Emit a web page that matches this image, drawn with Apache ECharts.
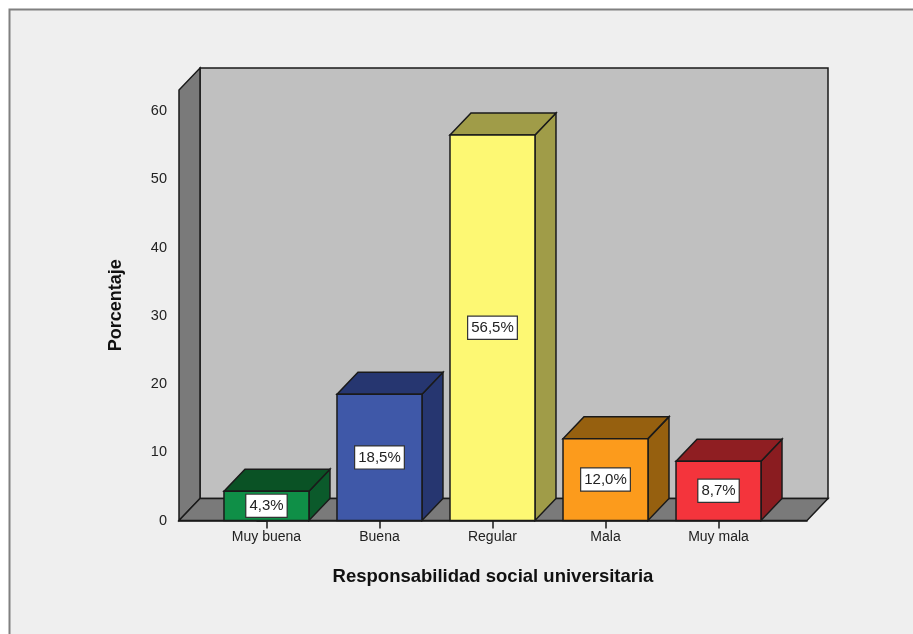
<!DOCTYPE html>
<html><head><meta charset="utf-8">
<style>html,body{margin:0;padding:0;background:#fff}#c{width:913px;height:634px}</style>
<script src="https://cdn.jsdelivr.net/npm/echarts@6/dist/echarts.min.js"></script>
</head><body><div id="c"></div>
<script>
const categories = ['Muy buena','Buena','Regular','Mala','Muy mala'];
const percentages = [4.3,18.5,56.5,12.0,8.7];
const yTicks = [0,10,20,30,40,50,60];
const frontColors = ['#0f8f47','#3f58a8','#fdf873','#fc9b1c','#f4343c'];
const topColors = ['#0a5225','#263670','#a09c48','#96600f','#8f1e22'];
const sideColors = ['#0b5a2b','#263670','#a09c48','#96600f','#8a1c20'];
const xMin = -0.774, xMax = 4.783, yMax = 63.1;
const depthX = 21, depthY = -22, barRatio = 0.752;
const ink = '#1a1a1a';
const shift = p => [p[0]+depthX, p[1]+depthY];
const face = (points, fill) => ({type:'polygon', shape:{points}, style:{fill, stroke:ink, lineWidth:1.5, lineJoin:'miter'}});

const chart = echarts.init(document.getElementById('c'), null, {renderer:'canvas'});
chart.setOption({
  animation:false,
  backgroundColor:'#ffffff',
  graphic:[{type:'rect', z:-10, shape:{x:9.5,y:9.5,width:1000,height:1000},
            style:{fill:'#efefef', stroke:'#808080', lineWidth:2}}],
  grid:{left:179, top:90, width:628, height:430.5, containLabel:false},
  xAxis:{type:'value', min:xMin, max:xMax, splitLine:{show:false},
    name:'Responsabilidad social universitaria', nameLocation:'middle', nameGap:47,
    nameTextStyle:{fontFamily:'Liberation Sans', fontWeight:'bold', fontSize:18.5, color:'#111'},
    axisLine:{show:true, lineStyle:{color:ink, width:1.5}},
    axisTick:{show:true, length:8, customValues:[0,1,2,3,4], lineStyle:{color:ink, width:1.5}},
    axisLabel:{customValues:[0,1,2,3,4], formatter:v=>categories[v]||'', margin:10,
      fontFamily:'Liberation Sans', fontSize:14, color:'#222'}},
  yAxis:{type:'value', min:0, max:yMax, splitLine:{show:false},
    name:'Porcentaje', nameLocation:'middle', nameGap:54, nameRotate:90,
    nameTextStyle:{fontFamily:'Liberation Sans', fontWeight:'bold', fontSize:18, color:'#111'},
    axisLine:{show:true, lineStyle:{color:ink, width:1.5}},
    axisTick:{show:true, length:10, customValues:yTicks, lineStyle:{color:ink, width:1.5}},
    axisLabel:{customValues:yTicks, margin:12,
      fontFamily:'Liberation Sans', fontSize:14.5, color:'#222'}},
  series:[
    {type:'custom', z:1, clip:false, silent:true, data:[[xMin,xMax,0,yMax]],
     encode:{x:[0,1], y:[2,3]},
     renderItem:(params, api)=>{
       const bl=api.coord([api.value(0),api.value(2)]), br=api.coord([api.value(1),api.value(2)]);
       const tl=api.coord([api.value(0),api.value(3)]);
       return {type:'group', children:[
         face([shift(bl),shift(br),[shift(br)[0],shift(tl)[1]],shift(tl)],'#c0c0c0'),
         face([bl,shift(bl),shift(tl),tl],'#7a7a7a'),
         face([bl,br,shift(br),shift(bl)],'#7a7a7a')
       ]};
     }},
    {type:'custom', z:2, clip:false, silent:true,
     data:percentages.map((v,i)=>[i,v]),
     encode:{x:0,y:1},
     renderItem:(params, api)=>{
       const i=api.value(0), v=api.value(1);
       const c=api.coord([i,v]), b=api.coord([i,0]);
       const half=api.size([1,0])[0]*barRatio/2;
       const tl=[c[0]-half,c[1]], tr=[c[0]+half,c[1]], bl=[c[0]-half,b[1]], br=[c[0]+half,b[1]];
       return {type:'group', children:[
         face([tr,br,shift(br),shift(tr)],sideColors[params.dataIndex]),
         face([tl,tr,shift(tr),shift(tl)],topColors[params.dataIndex]),
         face([tl,tr,br,bl],frontColors[params.dataIndex]),
         {type:'text', z2:10, style:{
           x:c[0], y:(c[1]+b[1])/2, align:'center', verticalAlign:'middle',
           text:v.toFixed(1).replace('.',',')+'%',
           fontFamily:'Liberation Sans', fontSize:15, fill:'#222',
           backgroundColor:'#ffffff', borderColor:'#333', borderWidth:1.2,
           padding:[4,3,3,3]}}
       ]};
     }}
  ]
});
</script></body></html>
